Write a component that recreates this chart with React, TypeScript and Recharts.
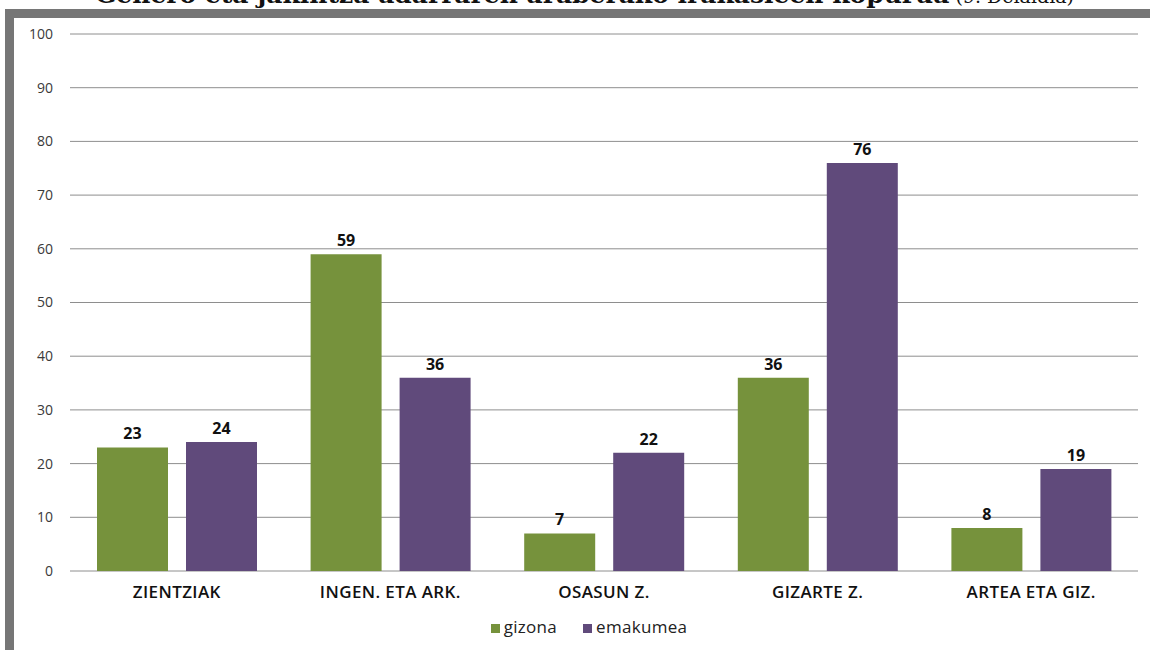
import React from "react";
import { BarChart, Bar, XAxis, YAxis, CartesianGrid, Legend, LabelList } from "recharts";

const categories = ["ZIENTZIAK", "INGEN. ETA ARK.", "OSASUN Z.", "GIZARTE Z.", "ARTEA ETA GIZ."];
const gizona = [23, 59, 7, 36, 8];
const emakumea = [24, 36, 22, 76, 19];
const yTicks = [0, 10, 20, 30, 40, 50, 60, 70, 80, 90, 100];
const seriesOrder = ["gizona", "emakumea"];

const data = categories.map((c, i) => ({ name: c, gizona: gizona[i], emakumea: emakumea[i] }));

const FONT = "'Open Sans', Lato, sans-serif";

export default function App() {
  return (
    <div style={{ position: "absolute", left: 0, top: 0, width: 1150, height: 650, overflow: "hidden", background: "#fff" }}>
      <div
        style={{
          position: "absolute",
          left: 95,
          top: -21,
          whiteSpace: "nowrap",
          fontFamily: "'DejaVu Serif', serif",
          fontSize: 25,
          lineHeight: "32px",
          color: "#111",
        }}
      >
        <span style={{ fontWeight: 700 }}>Genero eta jakintza adarraren araberako irakasleen kopurua</span>
        <span style={{ fontWeight: 400, fontSize: 19 }}> (9. Deialdia)</span>
      </div>
      <div style={{ position: "absolute", left: 5, top: 9, width: 1145, height: 9, background: "#767676" }} />
      <div style={{ position: "absolute", left: 5, top: 9, width: 9, height: 641, background: "#767676" }} />
      <div style={{ position: "absolute", left: 0, top: 0 }}>
        <BarChart
          width={1150}
          height={650}
          data={data}
          margin={{ top: 34, right: 12, left: 0, bottom: 20 }}
          barCategoryGap={27}
          barGap={18}
        >
          <CartesianGrid horizontal vertical={false} stroke="#8e8e8e" strokeWidth={1} />
          <YAxis
            width={70}
            domain={[0, 100]}
            ticks={yTicks}
            axisLine={false}
            tickLine={false}
            tickMargin={11}
            tick={{ fill: "#3a3a3a", fontSize: 14, fontWeight: 400, fontFamily: FONT }}
          />
          <XAxis
            dataKey="name"
            height={44}
            axisLine={false}
            tickLine={false}
            tickMargin={9}
            tick={{ fill: "#111", fontSize: 17, fontWeight: 600, fontFamily: FONT, letterSpacing: 0.4 }}
          />
          <Legend
            verticalAlign="bottom"
            height={15}
            iconType="square"
            iconSize={9}
            itemSorter={(item: any) => seriesOrder.indexOf(item.value)}
            wrapperStyle={{ fontFamily: FONT, fontSize: 17, paddingLeft: 33 }}
            formatter={(v: string) => <span style={{ color: "#222", marginRight: 16, letterSpacing: 0.3 }}>{v}</span>}
          />
          <Bar dataKey="gizona" name="gizona" fill="#76923C" isAnimationActive={false}>
            <LabelList dataKey="gizona" position="top" offset={8} style={{ fill: "#111", fontSize: 16, fontWeight: 700, fontFamily: FONT }} />
          </Bar>
          <Bar dataKey="emakumea" name="emakumea" fill="#604A7B" isAnimationActive={false}>
            <LabelList dataKey="emakumea" position="top" offset={8} style={{ fill: "#111", fontSize: 16, fontWeight: 700, fontFamily: FONT }} />
          </Bar>
        </BarChart>
      </div>
    </div>
  );
}
